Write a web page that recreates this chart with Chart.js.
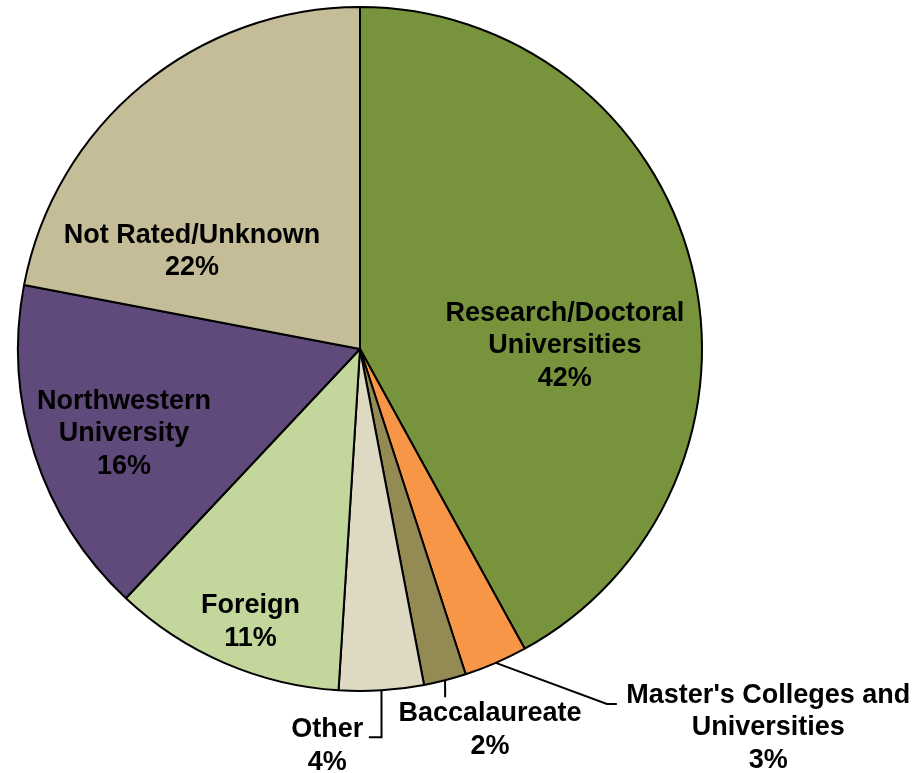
<!DOCTYPE html>
<html>
<head>
<meta charset="utf-8">
<title>Pie</title>
<script src="https://cdn.jsdelivr.net/npm/chart.js@4.4.1/dist/chart.umd.min.js"></script>
<style>
    html, body { margin: 0; padding: 0; background: #fff; }
    #wrap { width: 915px; height: 773px; position: relative; }
</style>
</head>
<body>
<div id="wrap"><canvas id="grafico"></canvas></div>
<script>
const categories = ['Research/Doctoral Universities', "Master's Colleges and Universities", 'Baccalaureate', 'Other', 'Foreign', 'Northwestern University', 'Not Rated/Unknown'];
const labelLines = [['Research/Doctoral', 'Universities'], ["Master's Colleges and", 'Universities'], ['Baccalaureate'], ['Other'], ['Foreign'], ['Northwestern', 'University'], ['Not Rated/Unknown']];
const percents = [42, 3, 2, 4, 11, 16, 22];

const colors = ['#77933C', '#F79646', '#948A54', '#DDD9C3', '#C3D69B', '#604A7B', '#C4BD97'];

// label block centre, in units of the radius, measured from the pie centre
const labelPos = [[0.599, -0.010], [1.194, 1.108], [0.380, 1.114], [-0.096, 1.161], [-0.320, 0.798], [-0.690, 0.248], [-0.491, -0.285]];
// leader lines (after the point on the arc), same units; null = no leader
const leaders = [null, [[0.722, 1.038], [0.751, 1.038]], [[0.249, 1.018]], [[0.063, 1.135], [0.026, 1.135]], null, null, null];

const labelsPlugin = {
    id: 'pie_labels',
    afterDatasetsDraw: (chart) => {
        const ctx = chart.ctx;
        const arcs = chart.getDatasetMeta(0).data;
        ctx.save();
        arcs.forEach((arc, i) => {
            const p = arc.getProps(['x', 'y', 'startAngle', 'endAngle', 'outerRadius'], true);
            const r = p.outerRadius;
            if (leaders[i]) {
                const mid = (p.startAngle + p.endAngle) / 2;
                ctx.beginPath();
                ctx.moveTo(p.x + Math.cos(mid) * r, p.y + Math.sin(mid) * r);
                leaders[i].forEach(pt => ctx.lineTo(p.x + pt[0] * r, p.y + pt[1] * r));
                ctx.lineWidth = 2;
                ctx.strokeStyle = 'black';
                ctx.stroke();
            }
            const lines = labelLines[i].concat([percents[i] + '%']);
            const lh = 32.5;
            const cx = p.x + labelPos[i][0] * r;
            const cy = p.y + labelPos[i][1] * r;
            ctx.fillStyle = 'black';
            ctx.font = 'bold 27px "Liberation Sans", Arial, sans-serif';
            ctx.textAlign = 'center';
            ctx.textBaseline = 'middle';
            lines.forEach((t, k) => {
                ctx.fillText(t, cx, cy + (k - (lines.length - 1) / 2) * lh);
            });
        });
        ctx.restore();
    }
};

const background = {
    id: 'custom_canvas_background_color',
    beforeDraw: (chart) => {
        const ctx = chart.canvas.getContext('2d');
        ctx.save();
        ctx.globalCompositeOperation = 'destination-over';
        ctx.fillStyle = 'white';
        ctx.fillRect(0, 0, chart.width, chart.height);
        ctx.restore();
    }
};

new Chart(document.getElementById('grafico'), {
    type: 'pie',
    plugins: [background, labelsPlugin],
    data: {
        labels: categories,
        datasets: [{
            data: percents,
            backgroundColor: colors,
            borderColor: 'black',
            borderWidth: 2
        }]
    },
    options: {
        responsive: true,
        maintainAspectRatio: false,
        animation: false,
        layout: {
            padding: { left: 17, top: 6, right: 212, bottom: 81 }
        },
        plugins: {
            legend: { display: false },
            tooltip: { enabled: false }
        }
    }
});
</script>
</body>
</html>
